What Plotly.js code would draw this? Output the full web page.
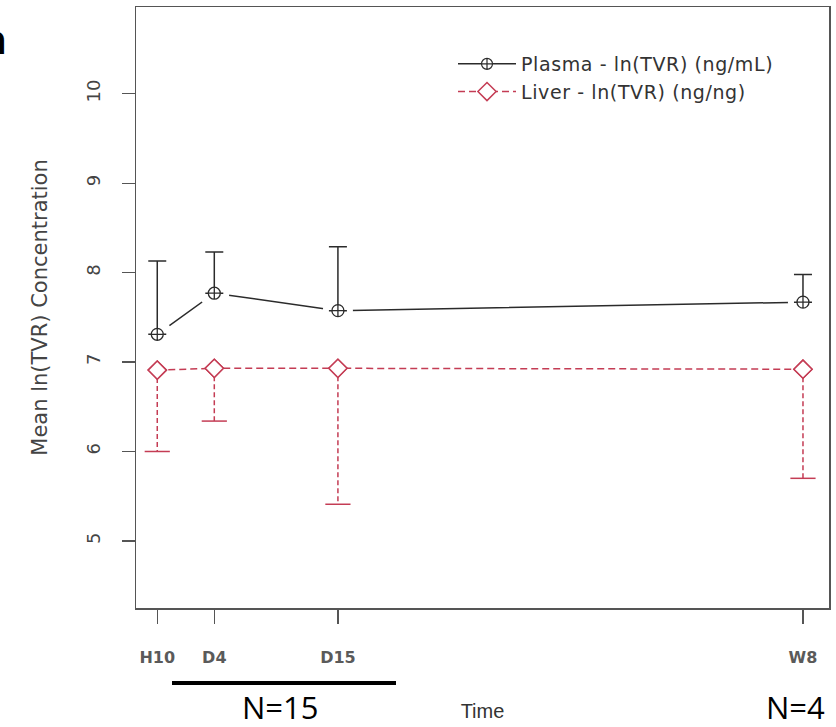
<!DOCTYPE html>
<html>
<head>
<meta charset="utf-8">
<script src="https://cdn.plot.ly/plotly-3.0.1.min.js"></script>
<style>html,body{margin:0;padding:0;background:#fff;}#chart{width:836px;height:727px;}
.legendtext{letter-spacing:0.6px;}</style>
</head>
<body>
<div id="chart"></div>
<script>
// ---- data ----
const timeLabels = ['H10', 'D4', 'D15', 'W8'];
const timePos = [0.42, 5.33, 15.97, 56];           // time axis positions (days)
const plasmaMean = [7.31, 7.77, 7.575, 7.67];       // ln(TVR) ng/mL
const plasmaUpper = [8.13, 8.23, 8.29, 7.98];       // upper error bar ends
const liverMean = [6.91, 6.93, 6.93, 6.92];         // ln(TVR) ng/ng
const liverLower = [6.00, 6.34, 5.41, 5.70];        // lower error bar ends
const yTicks = [5, 6, 7, 8, 9, 10];

const plasmaErrUp = plasmaMean.map((m, i) => plasmaUpper[i] - m);
const zeros = plasmaMean.map(() => 0);

// liver dashed stems built from the data arrays
const stemX = [], stemY = [];
liverMean.forEach((m, i) => { stemX.push(timePos[i], timePos[i], null); stemY.push(m, liverLower[i], null); });

const black = '#2b2b2b';
const red = '#c43c54';
const sans = 'DejaVu Sans, Liberation Sans, sans-serif';

const traces = [
  // plasma line (legend entry)
  {x: timePos, y: plasmaMean, mode: 'lines+markers', name: 'Plasma - ln(TVR) (ng/mL)',
   line: {color: black, width: 1.5},
   marker: {symbol: 'circle-cross', size: 11, color: '#fff', line: {color: black, width: 1.2}}},
  // liver stems (dashed)
  {x: stemX, y: stemY, mode: 'lines', showlegend: false, hoverinfo: 'skip',
   line: {color: red, width: 1.5, dash: '5px,3px'}},
  // liver dashed line (legend entry)
  {x: timePos, y: liverMean, mode: 'lines+markers', name: 'Liver - ln(TVR) (ng/ng)',
   line: {color: red, width: 1.5, dash: '7px,4px'},
   marker: {symbol: 'diamond', size: 14, color: '#fff', line: {color: red, width: 1.5}}},
  // liver caps
  {x: timePos, y: liverLower, mode: 'markers', showlegend: false, hoverinfo: 'skip',
   marker: {symbol: 'line-ew', size: 18, line: {color: red, width: 1.5}}},
  // gap masks around plasma points (R type="b" look)
  {x: timePos, y: plasmaMean, mode: 'markers', showlegend: false, hoverinfo: 'skip',
   marker: {symbol: 'circle', size: 30, color: '#fff', line: {width: 0}}},
  // plasma markers with upward error bars
  {x: timePos, y: plasmaMean, mode: 'markers', showlegend: false,
   error_y: {type: 'data', symmetric: false, array: plasmaErrUp, arrayminus: zeros,
             color: black, thickness: 1.5, width: 9},
   marker: {symbol: 'circle-cross', size: 12, color: '#fff', line: {color: black, width: 1.3}}},
  // liver markers on top
  {x: timePos, y: liverMean, mode: 'markers', showlegend: false, hoverinfo: 'skip',
   marker: {symbol: 'diamond', size: 14, color: '#fff', line: {color: red, width: 1.5}}}
];

const layout = {
  width: 836, height: 727,
  margin: {l: 136, r: 7, t: 7, b: 119},
  paper_bgcolor: '#fff', plot_bgcolor: '#fff',
  font: {family: sans, color: '#444'},
  showlegend: true,
  legend: {x: (453 - 136) / 693, xanchor: 'left', y: 1 - (45 - 7) / 601, yanchor: 'top', bgcolor: 'rgba(0,0,0,0)',
           font: {size: 19, color: '#333', family: sans}, tracegroupgap: 0, itemwidth: 58},
  xaxis: {
    range: [-1.41, 58.24], tickmode: 'array', tickvals: timePos, ticktext: timeLabels,
    showgrid: false, zeroline: false, showline: true, mirror: true, linecolor: '#555', linewidth: 1.5,
    ticks: 'outside', ticklen: 14, tickwidth: 1.3, tickcolor: '#555', ticklabelstandoff: 20,
    tickfont: {size: 16, color: '#5a5a5a', family: sans, weight: 'bold'},
    title: {text: 'Time', font: {size: 20, color: '#333', family: 'Liberation Sans, Arial, sans-serif'}, standoff: 38}
  },
  yaxis: {
    range: [4.25, 10.97], tickmode: 'array', tickvals: yTicks,
    showgrid: false, zeroline: false, showline: true, mirror: true, linecolor: '#555', linewidth: 1.5,
    ticks: 'outside', ticklen: 13, tickwidth: 1.3, tickcolor: '#555', tickangle: -90, ticklabelstandoff: 14,
    tickfont: {size: 18, color: '#444', family: sans},
    title: {text: 'Mean ln(TVR) Concentration', font: {size: 21, color: '#444', family: sans}, standoff: 30}
  },
  shapes: [
    {type: 'line', xref: 'paper', yref: 'paper', x0: (172 - 136) / 693, x1: (396 - 136) / 693,
     y0: -(683 - 608) / 601, y1: -(683 - 608) / 601, line: {color: '#000', width: 4}}
  ],
  annotations: [
    {text: 'N=15', xref: 'paper', yref: 'paper', x: (280 - 136) / 693, y: -(707 - 608) / 601,
     showarrow: false, font: {size: 31, color: '#000', family: 'Open Sans, Liberation Sans, sans-serif'}, xanchor: 'center', yanchor: 'middle'},
    {text: 'N=4', xref: 'paper', yref: 'paper', x: (795 - 136) / 693, y: -(707 - 608) / 601,
     showarrow: false, font: {size: 31, color: '#000', family: 'Open Sans, Liberation Sans, sans-serif'}, xanchor: 'center', yanchor: 'middle'},
    {text: 'n', xref: 'paper', yref: 'paper', x: (8 - 136) / 693, y: 1 - (40 - 7) / 601,
     showarrow: false, font: {size: 40, color: '#000', weight: 'bold', family: 'Liberation Sans, Arial, sans-serif'}, xanchor: 'right', yanchor: 'middle'}
  ]
};

Plotly.newPlot('chart', traces, layout, {displayModeBar: false, staticPlot: true});
</script>
</body>
</html>
